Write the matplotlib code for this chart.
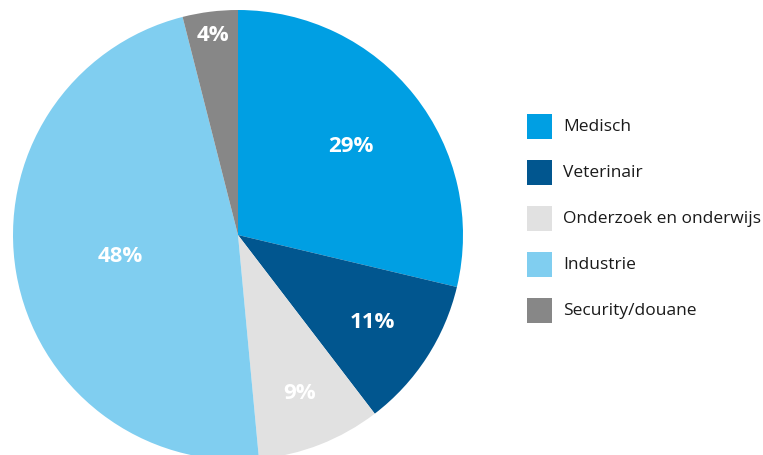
import numpy as np
import matplotlib.pyplot as plt
from matplotlib.patches import Rectangle

labels = ['Medisch', 'Veterinair', 'Onderzoek en onderwijs', 'Industrie', 'Security/douane']
values = [29, 11, 9, 48, 4]
pct_text = ['29%', '11%', '9%', '48%', '4%']
colors = ['#009fe3', '#01568f', '#e1e1e1', '#80cef0', '#878787']

# label distance from centre, as fraction of the radius
label_r = [0.64, 0.71, 0.75, 0.53, 0.90]

plt.rcParams['font.family'] = ['Open Sans', 'DejaVu Sans']

fig = plt.figure(figsize=(7.63, 4.56), dpi=100)
ax = fig.add_axes([0, 0, 1, 1])

cx, cy, R = 238, 456 - 236, 225
wedges, _ = ax.pie(values, colors=colors, startangle=90, counterclock=False,
                   center=(cx, cy), radius=R, wedgeprops=dict(linewidth=0))

for w, txt, r in zip(wedges, pct_text, label_r):
    ang = np.deg2rad((w.theta1 + w.theta2) / 2)
    ax.text(cx + r * R * np.cos(ang), cy + r * R * np.sin(ang), txt,
            ha='center', va='center', color='white', fontsize=16, fontweight='bold')

# legend, drawn by hand in pixel coordinates
for i, (lab, c) in enumerate(zip(labels, colors)):
    yc = 456 - (127 + i * 46)
    ax.add_patch(Rectangle((527, yc - 12.5), 25, 25, facecolor=c, edgecolor='none'))
    ax.text(563, yc, lab, ha='left', va='center', fontsize=12.5, color='#1a1a1a')

ax.set_xlim(0, 763)
ax.set_ylim(0, 456)
ax.set_aspect('equal')
ax.axis('off')

fig.savefig('out.png', dpi=100)
